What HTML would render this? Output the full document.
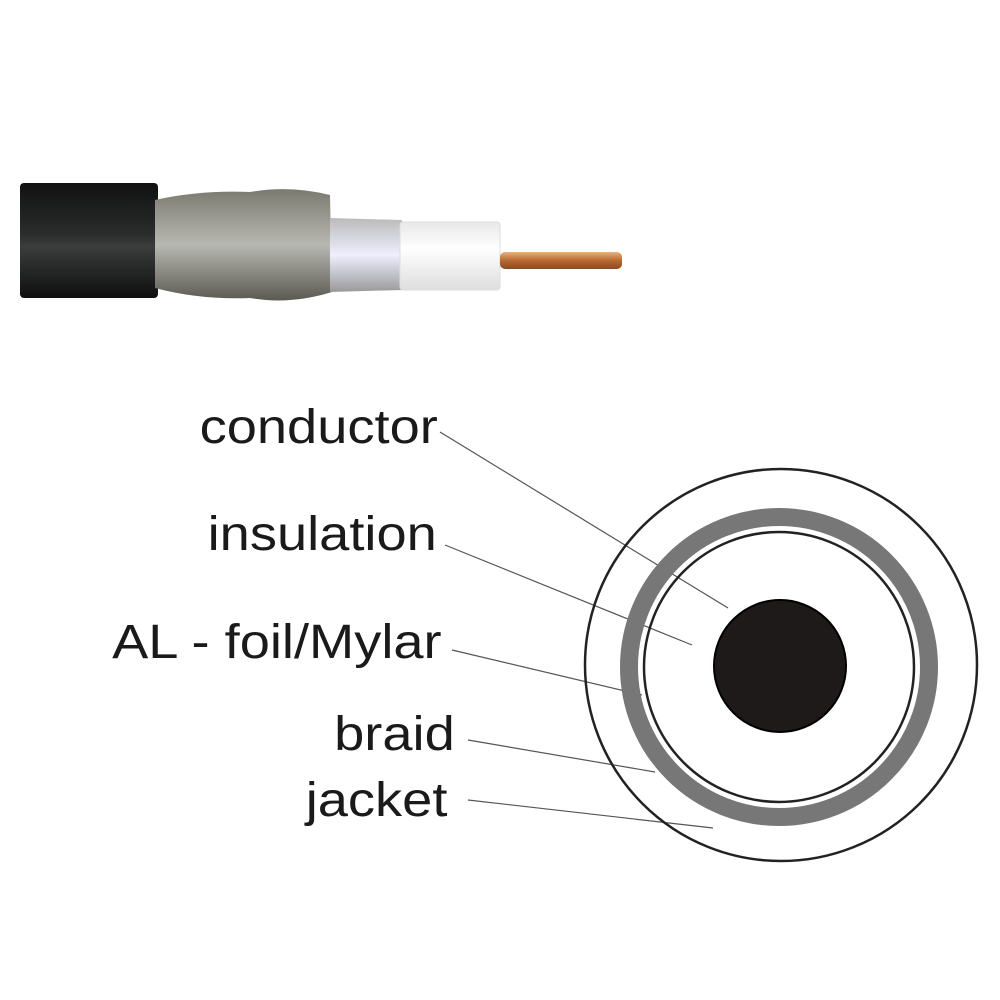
<!DOCTYPE html>
<html><head><style>
body{margin:0;background:#fff;}
.l{position:absolute;font-family:"Liberation Sans",sans-serif;font-size:48px;color:#1a1a1a;white-space:nowrap;text-align:right;transform:scaleX(1.13);transform-origin:right center;}
</style></head><body>
<div style="position:relative;width:1000px;height:1000px;overflow:hidden;">
<svg width="1000" height="1000" style="position:absolute;left:0;top:0">
<defs>
<linearGradient id="jk" x1="0" y1="0" x2="0" y2="1">
<stop offset="0" stop-color="#111"/><stop offset="0.45" stop-color="#2a2d2c"/><stop offset="0.55" stop-color="#3a3d3c"/><stop offset="1" stop-color="#0e0e0e"/></linearGradient>
<linearGradient id="br" x1="0" y1="0" x2="0" y2="1">
<stop offset="0" stop-color="#7a7a70"/><stop offset="0.5" stop-color="#b8b8b2"/><stop offset="1" stop-color="#5a5a52"/></linearGradient>
<linearGradient id="fo" x1="0" y1="0" x2="0" y2="1">
<stop offset="0" stop-color="#bbb"/><stop offset="0.5" stop-color="#eef"/><stop offset="1" stop-color="#999"/></linearGradient>
<linearGradient id="ins" x1="0" y1="0" x2="0" y2="1">
<stop offset="0" stop-color="#e8e8e8"/><stop offset="0.4" stop-color="#fff"/><stop offset="1" stop-color="#ddd"/></linearGradient>
<linearGradient id="cu" x1="0" y1="0" x2="0" y2="1">
<stop offset="0" stop-color="#e8b080"/><stop offset="0.5" stop-color="#b86a30"/><stop offset="1" stop-color="#8a4a20"/></linearGradient>
</defs>
<rect x="20" y="183" width="138" height="115" rx="4" fill="url(#jk)"/>
<path d="M155 200 Q200 190 250 192 Q290 185 330 195 L332 292 Q290 305 250 298 Q200 300 155 288 Z" fill="url(#br)"/>
<path d="M330 218 L402 220 L402 290 L330 292 Z" fill="url(#fo)"/>
<rect x="400" y="222" width="100" height="68" rx="3" fill="url(#ins)" stroke="#ddd"/>
<rect x="500" y="252" width="122" height="17" rx="5" fill="url(#cu)"/>
<g stroke="#555" stroke-width="1.2">
<line x1="440" y1="432" x2="728" y2="608"/>
<line x1="445" y1="545" x2="692" y2="645"/>
<line x1="452" y1="650" x2="642" y2="695"/>
<line x1="468" y1="740" x2="655" y2="772"/>
<line x1="468" y1="800" x2="713" y2="828"/>
</g>
<circle cx="781" cy="665" r="196" fill="none" stroke="#222" stroke-width="2.5"/>
<circle cx="779" cy="667" r="150" fill="none" stroke="#777" stroke-width="18"/>
<circle cx="779" cy="667" r="135" fill="none" stroke="#222" stroke-width="2.5"/>
<circle cx="780" cy="666" r="66" fill="#1e1a1a" stroke="#000" stroke-width="2"/>
</svg>
<div class="l" style="right:562px;top:400px">conductor</div>
<div class="l" style="right:563px;top:507px">insulation</div>
<div class="l" style="right:558px;top:615px">AL - foil/Mylar</div>
<div class="l" style="right:545px;top:707px">braid</div>
<div class="l" style="right:553px;top:773px">jacket</div>
</div>
</body></html>
